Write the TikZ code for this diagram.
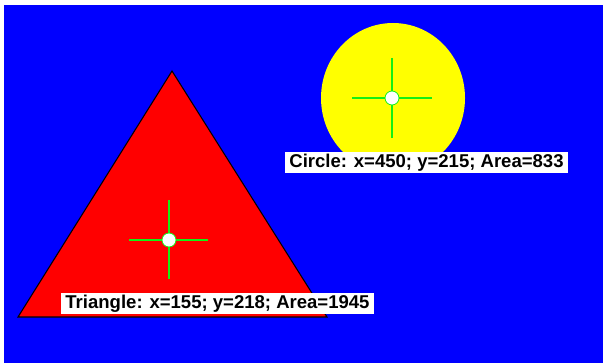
\documentclass[tikz,border=0pt]{standalone}
\usepackage{fontspec}
\setmainfont{Liberation Sans}
\usepackage{tikz}
\usetikzlibrary{calc,positioning}
\usepackage{xcolor}
\definecolor{bgblue}{RGB}{0,0,255}
\definecolor{trired}{RGB}{255,0,0}
\definecolor{circyellow}{RGB}{255,255,0}
\definecolor{crossgreen}{RGB}{20,240,20}

\begin{document}
\begin{tikzpicture}[x=0.75pt, y=-0.75pt,
    arm/.style={crossgreen, line width=1.1pt},
    dot/.style={circle, fill=white, draw=crossgreen, line width=0.6pt, minimum size=10.5pt, inner sep=0pt},
    infobox/.style={fill=white, inner xsep=3.5pt, inner ysep=0pt, minimum height=15.75pt,
      font=\fontsize{13.9}{15}\selectfont\bfseries}]
  \useasboundingbox (0,0) rectangle (603,363);
  \fill[white] (0,0) rectangle (603,363);
  \fill[bgblue] (4,5) rectangle (603,363);

  % Circle
  \fill[circyellow] (393,98) ellipse [x radius=72, y radius=75];
  \node[dot] (cdot) at (392,98) {};
  \coordinate (cW) at (352,98);
  \coordinate (cE) at (432,98);
  \coordinate (cN) at (392,58);
  \coordinate (cS) at (392,138);
  \draw[arm] (cW) -- (cdot.west);
  \draw[arm] (cdot.east) -- (cE);
  \draw[arm] (cN) -- (cdot.north);
  \draw[arm] (cdot.south) -- (cS);

  % Triangle
  \filldraw[fill=trired, draw=black, line width=0.8pt] (172,71) -- (327,317) -- (18,317) -- cycle;
  \node[dot] (tdot) at (169,240) {};
  \coordinate (tW) at (129,240);
  \coordinate (tE) at (208,240);
  \coordinate (tN) at (169,200);
  \coordinate (tS) at (169,279);
  \draw[arm] (tW) -- (tdot.west);
  \draw[arm] (tdot.east) -- (tE);
  \draw[arm] (tN) -- (tdot.north);
  \draw[arm] (tdot.south) -- (tS);

  % Labels
  \node[infobox] (clabel) at (426.5,162.5) {Circle: x=450; y=215; Area=833};
  \node[infobox] (tlabel) at (217.5,303.5) {Triangle: x=155; y=218; Area=1945};
\end{tikzpicture}
\end{document}
